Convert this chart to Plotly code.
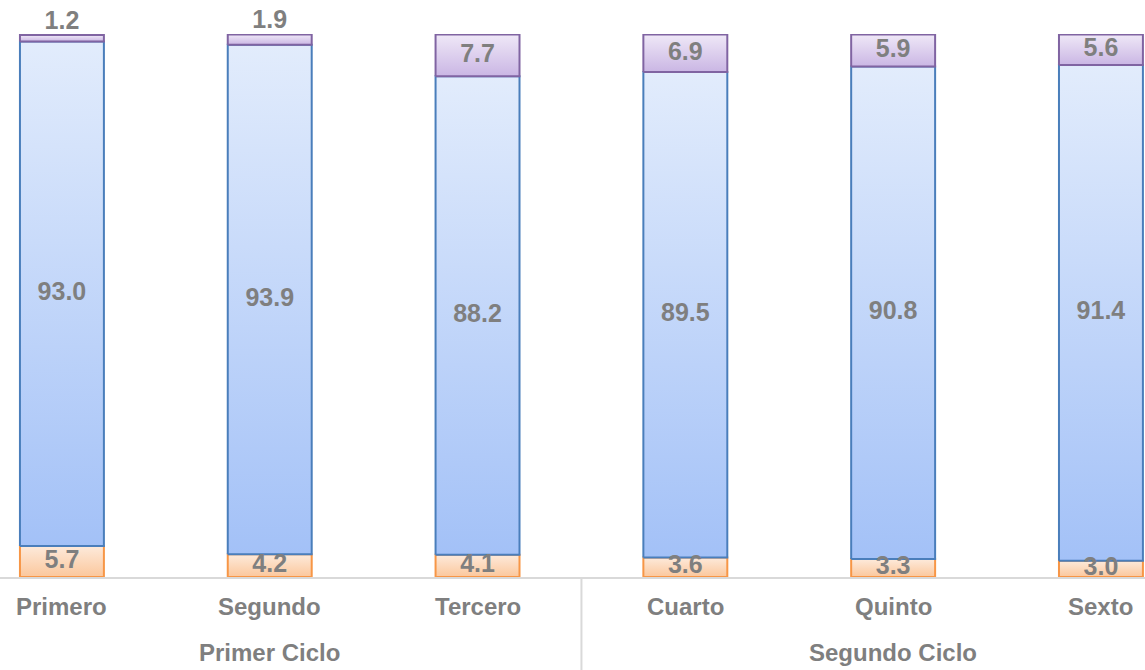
import plotly.graph_objects as go

# datos
categories = ["Primero", "Segundo", "Tercero", "Cuarto", "Quinto", "Sexto"]
group_names = ["Primer Ciclo", "Segundo Ciclo"]
group_sizes = [3, 3]

orange_vals = [5.7, 4.2, 4.1, 3.6, 3.3, 3.0]
blue_vals = [93.0, 93.9, 88.2, 89.5, 90.8, 91.4]
purple_vals = [1.2, 1.9, 7.7, 6.9, 5.9, 5.6]

BAR_W = 0.404
TXT = "#7f7f7f"
FONT = "Liberation Sans, Arial, sans-serif"

series = [
    # (valores, borde, color abajo, color arriba)
    (orange_vals, "#f79646", "#fbc79c", "#fdeadb"),
    (blue_vals, "#4a7ebb", "#a3c1f7", "#e2ecfc"),
    (purple_vals, "#8064a2", "#cab6e4", "#efe8f7"),
]

fig = go.Figure()

base = [0.0] * len(categories)
label_x, label_y, label_t, label_pos = [], [], [], []
for vals, border, c_bot, c_top in series:
    for i, v in enumerate(vals):
        b = base[i]
        t = b + v
        x0, x1 = i - BAR_W / 2, i + BAR_W / 2
        fig.add_trace(go.Scatter(
            x=[x0, x1, x1, x0, x0], y=[b, b, t, t, b],
            mode="lines", fill="toself",
            fillgradient=dict(type="vertical",
                              colorscale=[[0, c_bot], [1, c_top]]),
            line=dict(color=border, width=2),
            hoverinfo="skip", showlegend=False,
        ))
        label_x.append(i)
        if v < 3 and vals is purple_vals:
            label_y.append(t)
            label_pos.append("top center")
        else:
            label_y.append(b + v / 2)
            label_pos.append("middle center")
        label_t.append(f"{v:.1f}")
        base[i] = t

fig.add_trace(go.Scatter(
    x=label_x, y=label_y, text=label_t, mode="text",
    textposition=label_pos, cliponaxis=False,
    textfont=dict(family=FONT, size=25, color=TXT, weight="bold"),
    hoverinfo="skip", showlegend=False,
))

# etiquetas de categoria y de grupo
for i, name in enumerate(categories):
    fig.add_annotation(x=i, y=0, xref="x", yref="y", text=name,
                       showarrow=False, yshift=-29, yanchor="middle",
                       font=dict(family=FONT, size=24, color=TXT, weight="bold"))

start = 0
for g, n in zip(group_names, group_sizes):
    center = start + (n - 1) / 2
    fig.add_annotation(x=center, y=0, xref="x", yref="y", text=g,
                       showarrow=False, yshift=-75, yanchor="middle",
                       font=dict(family=FONT, size=24, color=TXT, weight="bold"))
    start += n
    if start < len(categories):
        fig.add_shape(type="line", xref="x", yref="paper",
                      x0=start - 0.5, x1=start - 0.5, y0=0, y1=-0.175,
                      line=dict(color="#d9d9d9", width=2))

fig.update_layout(
    width=1145, height=670,
    margin=dict(l=0, r=0, t=34, b=93),
    paper_bgcolor="white", plot_bgcolor="white",
    showlegend=False,
    xaxis=dict(range=[-0.298, 5.212], showgrid=False, zeroline=False,
               showticklabels=False, ticks="", showline=True,
               linecolor="#d9d9d9", linewidth=2, fixedrange=True),
    yaxis=dict(range=[0, 100.1], visible=False, fixedrange=True),
)

fig.write_html("out.html",
               config={"displayModeBar": False},
               post_script="document.body.style.margin='0';")
